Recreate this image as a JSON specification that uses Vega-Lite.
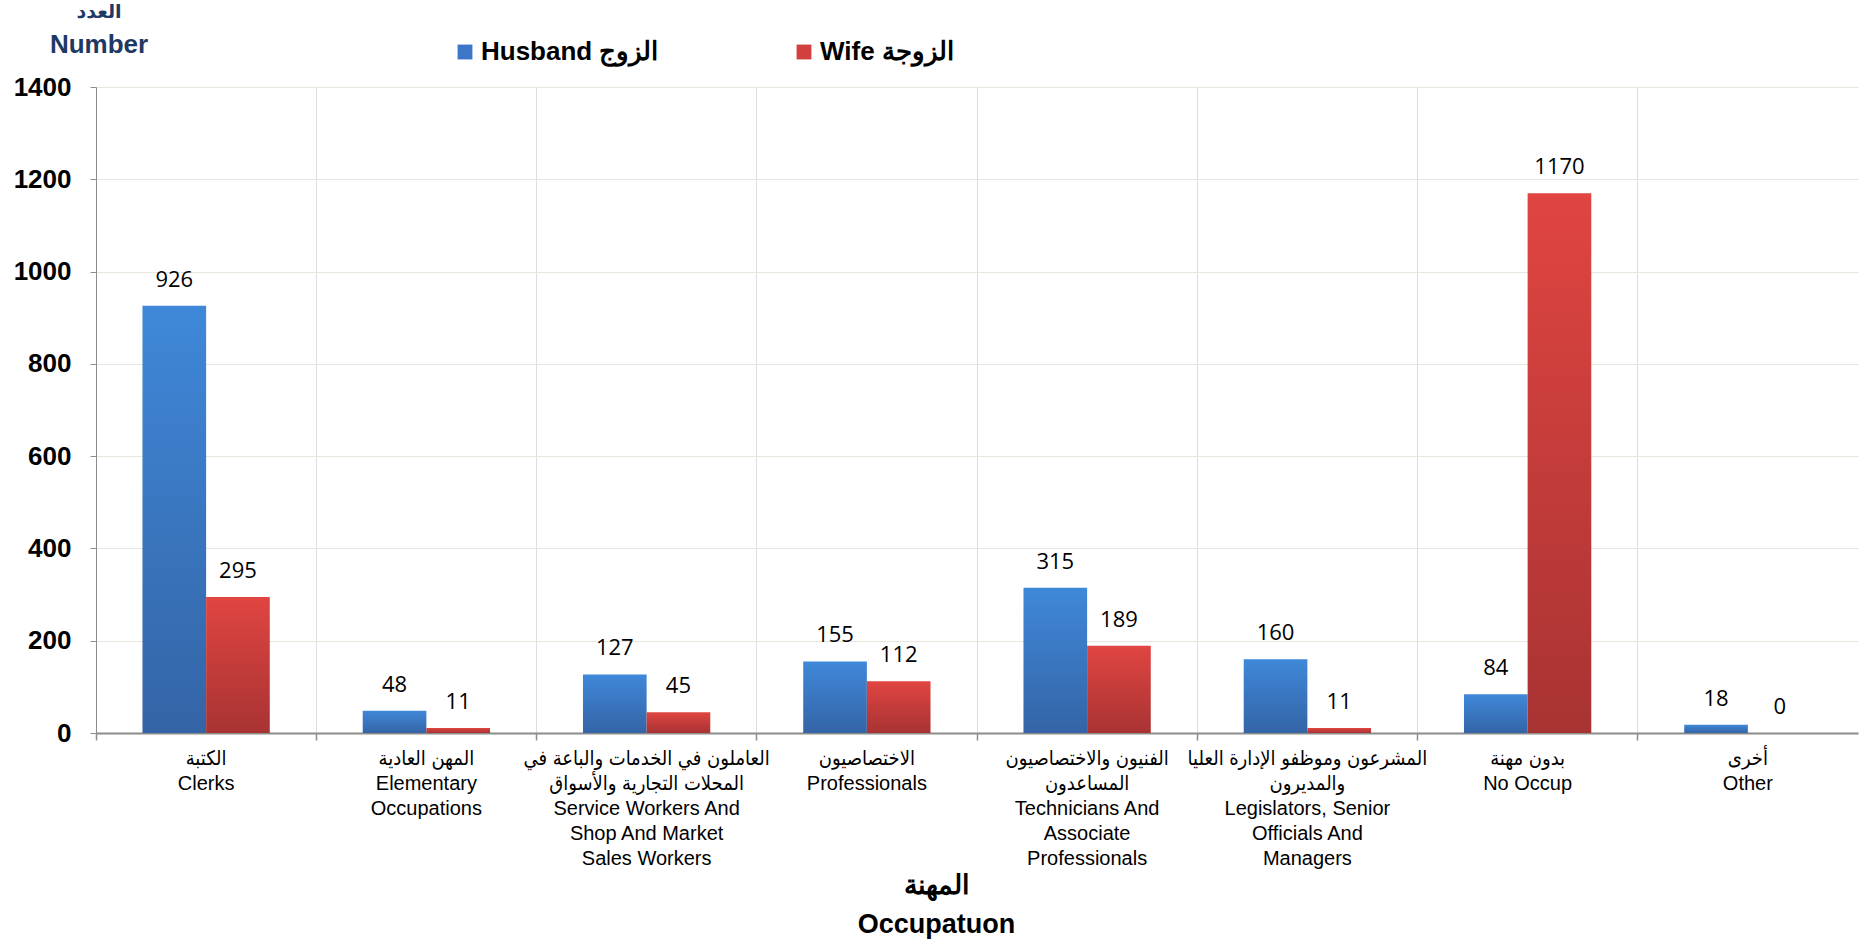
{
  "$schema": "https://vega.github.io/schema/vega-lite/v6.json",
  "width": 1762,
  "height": 646,
  "autosize": {"type": "none"},
  "padding": {"left": 96, "top": 87, "right": 7, "bottom": 213},
  "background": "white",
  "config": {"view": {"stroke": null}, "font": "Liberation Sans"},
  "title": {
    "text": "العدد",
    "subtitle": "Number",
    "frame": "group",
    "anchor": "start",
    "align": "center",
    "dx": 3,
    "offset": -19,
    "font": "Liberation Sans, DejaVu Sans, sans-serif",
    "fontSize": 19,
    "fontWeight": "bold",
    "color": "#1f3864",
    "subtitleFont": "Liberation Sans",
    "subtitleFontSize": 26,
    "subtitleFontWeight": "bold",
    "subtitleColor": "#1f3864",
    "subtitlePadding": 10
  },
  "data": {
    "values": [
      {"occupation": "الكتبة|Clerks", "spouse": "Husband الزوج", "count": 926},
      {"occupation": "الكتبة|Clerks", "spouse": "Wife الزوجة", "count": 295},
      {"occupation": "المهن العادية|Elementary|Occupations", "spouse": "Husband الزوج", "count": 48},
      {"occupation": "المهن العادية|Elementary|Occupations", "spouse": "Wife الزوجة", "count": 11},
      {"occupation": "العاملون في الخدمات والباعة في|المحلات التجارية والأسواق|Service Workers And|Shop And Market|Sales Workers", "spouse": "Husband الزوج", "count": 127},
      {"occupation": "العاملون في الخدمات والباعة في|المحلات التجارية والأسواق|Service Workers And|Shop And Market|Sales Workers", "spouse": "Wife الزوجة", "count": 45},
      {"occupation": "الاختصاصيون|Professionals", "spouse": "Husband الزوج", "count": 155},
      {"occupation": "الاختصاصيون|Professionals", "spouse": "Wife الزوجة", "count": 112},
      {"occupation": "الفنيون والاختصاصيون|المساعدون|Technicians And|Associate|Professionals", "spouse": "Husband الزوج", "count": 315},
      {"occupation": "الفنيون والاختصاصيون|المساعدون|Technicians And|Associate|Professionals", "spouse": "Wife الزوجة", "count": 189},
      {"occupation": "المشرعون وموظفو الإدارة العليا|والمديرون|Legislators, Senior|Officials And|Managers", "spouse": "Husband الزوج", "count": 160},
      {"occupation": "المشرعون وموظفو الإدارة العليا|والمديرون|Legislators, Senior|Officials And|Managers", "spouse": "Wife الزوجة", "count": 11},
      {"occupation": "بدون مهنة|No Occup", "spouse": "Husband الزوج", "count": 84},
      {"occupation": "بدون مهنة|No Occup", "spouse": "Wife الزوجة", "count": 1170},
      {"occupation": "أخرى|Other", "spouse": "Husband الزوج", "count": 18},
      {"occupation": "أخرى|Other", "spouse": "Wife الزوجة", "count": 0}
    ]
  },
  "encoding": {
    "x": {
      "field": "occupation",
      "type": "nominal",
      "sort": null,
      "scale": {"paddingInner": 0, "paddingOuter": 0},
      "axis": {
        "title": ["المهنة", "Occupatuon"],
        "titleFont": "Liberation Sans",
        "titleFontSize": 27,
        "titleFontWeight": "bold",
        "titleColor": "black",
        "titleX": 840,
        "titleY": 139,
        "titleAlign": "center",
        "titleBaseline": "top",
        "titleLineHeight": 39,
        "labelExpr": "split(datum.label, '|')",
        "labelAngle": 0,
        "labelFont": "Liberation Sans, DejaVu Sans Condensed, sans-serif",
        "labelFontSize": 20,
        "labelLineHeight": 25,
        "labelColor": "black",
        "labelBaseline": "top",
        "labelPadding": 8,
        "labelLimit": 0,
        "labelOverlap": false,
        "labelBound": false,
        "bandPosition": 0,
        "grid": true,
        "gridColor": "#dedede",
        "gridWidth": 1,
        "domainColor": "#8c8c8c",
        "domainWidth": 2,
        "tickColor": "#8c8c8c",
        "tickSize": 7,
        "tickWidth": 1.5
      }
    },
    "xOffset": {
      "field": "spouse",
      "type": "nominal",
      "sort": ["Husband الزوج", "Wife الزوجة"],
      "scale": {"paddingInner": 0, "paddingOuter": 0.73}
    },
    "y": {
      "field": "count",
      "type": "quantitative",
      "scale": {"domain": [0, 1400]},
      "axis": {
        "title": null,
        "values": [0, 200, 400, 600, 800, 1000, 1200, 1400],
        "format": "d",
        "labelFont": "Liberation Sans",
        "labelFontSize": 26,
        "labelFontWeight": "bold",
        "labelColor": "black",
        "labelPadding": 19,
        "grid": true,
        "gridColor": "#e6e6dc",
        "domainColor": "#8c8c8c",
        "tickColor": "#8c8c8c",
        "tickSize": 6
      }
    }
  },
  "layer": [
    {
      "mark": {"type": "bar", "opacity": 0},
      "encoding": {
        "color": {
          "field": "spouse",
          "type": "nominal",
          "sort": ["Husband الزوج", "Wife الزوجة"],
          "scale": {
            "domain": ["Husband الزوج", "Wife الزوجة"],
            "range": ["#3b77c6", "#d23f3c"]
          },
          "legend": {
            "title": null,
            "orient": "none",
            "direction": "horizontal",
            "legendX": 356,
            "legendY": -48,
            "symbolType": "square",
            "symbolSize": 220,
            "symbolOpacity": 1,
            "symbolStrokeWidth": 0,
            "labelFont": "Liberation Sans",
            "labelFontSize": 26,
            "labelFontWeight": "bold",
            "labelColor": "black",
            "labelOffset": 3,
            "labelLimit": 0,
            "columnPadding": 132
          }
        }
      }
    },
    {
      "mark": {"type": "bar"},
      "encoding": {
        "color": {
          "condition": {
            "test": "datum.spouse === 'Husband الزوج'",
            "value": {"gradient": "linear", "x1": 0, "y1": 0, "x2": 0, "y2": 1, "stops": [{"offset": 0, "color": "#3f88d9"}, {"offset": 1, "color": "#3464a6"}]}
          },
          "value": {"gradient": "linear", "x1": 0, "y1": 0, "x2": 0, "y2": 1, "stops": [{"offset": 0, "color": "#e04541"}, {"offset": 1, "color": "#a83333"}]}
        }
      }
    },
    {
      "mark": {"type": "text", "baseline": "alphabetic", "dy": -19, "font": "Open Sans", "fontSize": 22, "color": "black"},
      "encoding": {
        "text": {"field": "count", "type": "quantitative"}
      }
    }
  ]
}
